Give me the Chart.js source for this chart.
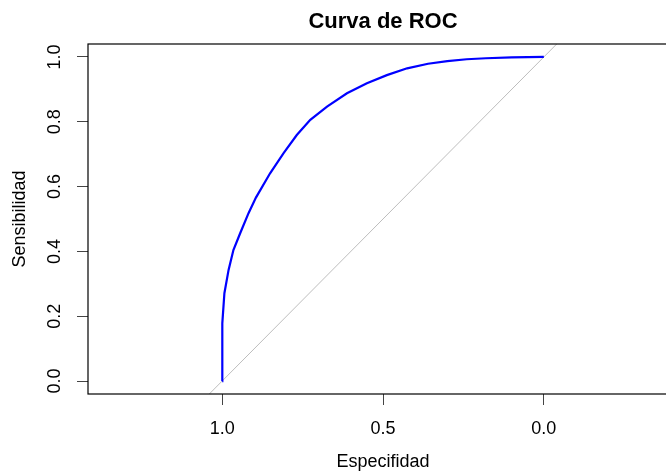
<!DOCTYPE html>
<html>
<head>
<meta charset="utf-8">
<script src="https://cdn.jsdelivr.net/npm/chart.js@4/dist/chart.umd.min.js"></script>
<style>
  html, body { margin: 0; padding: 0; background: #fff; overflow: hidden; }
</style>
</head>
<body>
<canvas id="roc" width="700" height="471"></canvas>
<script>
// ROC curve points (specificity, sensitivity)
const specificity = [1.0, 1.0, 0.999, 0.993, 0.98, 0.965, 0.944, 0.918, 0.895, 0.851, 0.809,
    0.768, 0.726, 0.674, 0.612, 0.55, 0.488, 0.425, 0.36, 0.3, 0.24, 0.18, 0.1, 0.0];
const sensitivity = [0.0, 0.085, 0.178, 0.271, 0.343, 0.404, 0.456, 0.518, 0.566, 0.641, 0.703,
    0.759, 0.806, 0.847, 0.888, 0.919, 0.944, 0.965, 0.979, 0.987, 0.993, 0.996, 0.999, 1.0];
// reference diagonal (chance line), spans the whole plot box
const diagSpec = [1.04, -0.04];
const diagSens = [-0.04, 1.04];
const xTicks = [1.0, 0.5, 0.0];
const yTicks = [0.0, 0.2, 0.4, 0.6, 0.8, 1.0];

const FONT = "'Liberation Sans', Arial, sans-serif";

const rTextPlugin = {
    id: 'rText',
    afterDraw(chart) {
        const { ctx, chartArea: a, scales } = chart;
        ctx.save();
        // plot box
        ctx.strokeStyle = '#000';
        ctx.lineWidth = 1.2;
        ctx.strokeRect(a.left, a.top, a.right - a.left, a.bottom - a.top);

        const cx = (a.left + a.right) / 2;
        ctx.fillStyle = '#000';
        ctx.textAlign = 'center';
        ctx.textBaseline = 'middle';
        ctx.font = 'bold 22px ' + FONT;
        ctx.fillText('Curva de ROC', cx, 22);
        ctx.font = '18px ' + FONT;
        ctx.fillText('Especifidad', cx, 462);

        // rotated y labels
        const y = scales.y;
        yTicks.forEach(v => {
            ctx.save();
            ctx.translate(55, y.getPixelForValue(v));
            ctx.rotate(-Math.PI / 2);
            ctx.fillText(v.toFixed(1), 0, 0);
            ctx.restore();
        });
        ctx.translate(20, (a.top + a.bottom) / 2);
        ctx.rotate(-Math.PI / 2);
        ctx.fillText('Sensibilidad', 0, 0);
        ctx.restore();
    }
};

new Chart(document.getElementById('roc').getContext('2d'), {
    type: 'scatter',
    data: {
        datasets: [{
            label: 'ROC',
            data: specificity.map((s, i) => ({ x: s, y: sensitivity[i] })),
            showLine: true,
            borderColor: '#0000ff',
            borderWidth: 2.2,
            pointRadius: 0,
            fill: false,
            tension: 0
        }, {
            label: 'diagonal',
            data: diagSpec.map((s, i) => ({ x: s, y: diagSens[i] })),
            showLine: true,
            borderColor: '#bdbdbd',
            borderWidth: 1,
            pointRadius: 0,
            fill: false
        }]
    },
    options: {
        responsive: false,
        animation: false,
        devicePixelRatio: 1,
        layout: { padding: { top: 44, right: 22, left: 0, bottom: 0 } },
        plugins: { legend: { display: false }, tooltip: { enabled: false }, title: { display: false } },
        scales: {
            x: {
                type: 'linear',
                reverse: true,
                min: -0.417,
                max: 1.417,
                afterBuildTicks: s => { s.ticks = xTicks.map(v => ({ value: v })); },
                afterFit: s => { s.height = 77; },
                border: { display: false },
                grid: { drawOnChartArea: false, drawTicks: true, tickLength: 11, color: '#444', lineWidth: 1 },
                ticks: {
                    color: '#000',
                    font: { family: FONT, size: 18 },
                    padding: 13,
                    maxRotation: 0,
                    autoSkip: false,
                    callback: v => v.toFixed(1)
                }
            },
            y: {
                type: 'linear',
                min: -0.04,
                max: 1.04,
                afterBuildTicks: s => { s.ticks = yTicks.map(v => ({ value: v })); },
                afterFit: s => { s.width = 88; },
                border: { display: false },
                grid: { drawOnChartArea: false, drawTicks: true, tickLength: 11, color: '#444', lineWidth: 1 },
                ticks: { display: false }
            }
        }
    },
    plugins: [rTextPlugin]
});
</script>
</body>
</html>
